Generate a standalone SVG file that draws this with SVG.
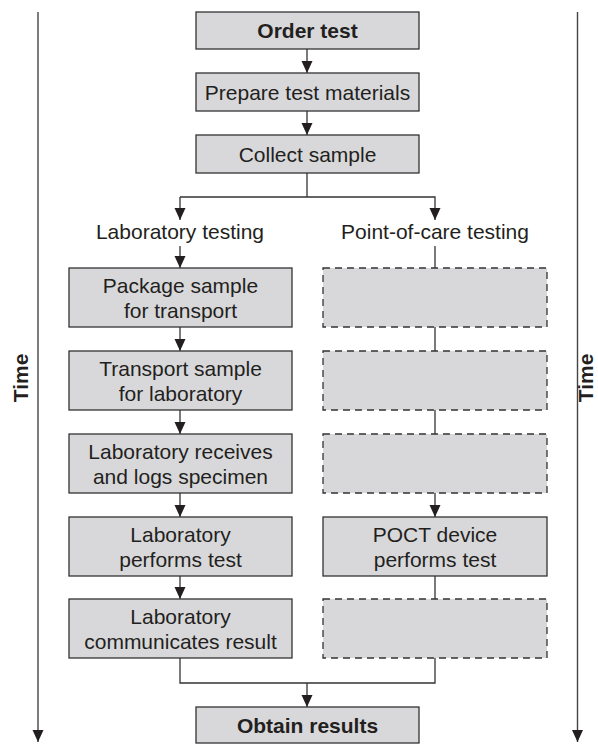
<svg xmlns="http://www.w3.org/2000/svg" width="598" height="744" viewBox="0 0 598 744">
<style>
  text { font-family: "Liberation Sans", Arial, Helvetica, sans-serif; font-size: 21px; fill: #231f20; text-anchor: middle; }
  .b { font-weight: bold; }
  .box { fill: #d8d8da; stroke: #333; stroke-width: 1.3; }
  .dash { fill: #d8d8da; stroke: #333; stroke-width: 1.3; stroke-dasharray: 7 5; }
  .ln { fill: none; stroke: #333; stroke-width: 1.3; }
  .tl { fill: none; stroke: #444; stroke-width: 1.4; }
</style>
<defs>
  <marker id="ah" markerUnits="userSpaceOnUse" markerWidth="12" markerHeight="12" viewBox="0 0 12 12" refX="12" refY="6" orient="auto">
    <path d="M0,0.5 L12,6 L0,11.5 Z" fill="#231f20"/>
  </marker>
</defs>
<rect width="598" height="744" fill="#fff"/>

<g id="timeline-left">
  <line class="tl" x1="38" y1="12" x2="38" y2="742" marker-end="url(#ah)"/>
  <text class="b" transform="translate(28,378) rotate(-90)">Time</text>
</g>
<g id="timeline-right">
  <line class="tl" x1="577.5" y1="12" x2="577.5" y2="742" marker-end="url(#ah)"/>
  <text class="b" transform="translate(593,378) rotate(-90)">Time</text>
</g>

<g id="connectors">
  <line class="ln" x1="307" y1="49" x2="307" y2="73" marker-end="url(#ah)"/>
  <line class="ln" x1="307" y1="111" x2="307" y2="135" marker-end="url(#ah)"/>
  <polyline class="ln" points="307,173 307,197"/>
  <polyline class="ln" points="180,197 435,197 435,220" marker-end="url(#ah)"/>
  <line class="ln" x1="180" y1="197" x2="180" y2="220" marker-end="url(#ah)"/>
  <line class="ln" x1="180" y1="246" x2="180" y2="268" marker-end="url(#ah)"/>
  <line class="ln" x1="180" y1="327" x2="180" y2="351" marker-end="url(#ah)"/>
  <line class="ln" x1="180" y1="410" x2="180" y2="434" marker-end="url(#ah)"/>
  <line class="ln" x1="180" y1="493" x2="180" y2="517" marker-end="url(#ah)"/>
  <line class="ln" x1="180" y1="576" x2="180" y2="599" marker-end="url(#ah)"/>
  <line class="ln" x1="435" y1="246" x2="435" y2="268"/>
  <line class="ln" x1="435" y1="327" x2="435" y2="351"/>
  <line class="ln" x1="435" y1="410" x2="435" y2="434"/>
  <line class="ln" x1="435" y1="493" x2="435" y2="517" marker-end="url(#ah)"/>
  <line class="ln" x1="435" y1="576" x2="435" y2="599"/>
  <polyline class="ln" points="180,658 180,683 435,683 435,658"/>
  <line class="ln" x1="307" y1="683" x2="307" y2="707" marker-end="url(#ah)"/>
</g>

<g id="order-test">
  <rect class="box" x="196" y="12" width="223" height="37"/>
  <text class="b" x="307.5" y="38">Order test</text>
</g>
<g id="prepare-test-materials">
  <rect class="box" x="196" y="73" width="223" height="38"/>
  <text x="307.5" y="99.5">Prepare test materials</text>
</g>
<g id="collect-sample">
  <rect class="box" x="196" y="135" width="223" height="38"/>
  <text x="307.5" y="161.5">Collect sample</text>
</g>

<g id="label-lab">
  <text x="180" y="239">Laboratory testing</text>
</g>
<g id="label-poc">
  <text x="435" y="239">Point-of-care testing</text>
</g>

<g id="package-sample">
  <rect class="box" x="69" y="268" width="223" height="59"/>
  <text x="180.5" y="292.5">Package sample</text>
  <text x="180.5" y="317.5">for transport</text>
</g>
<g id="transport-sample">
  <rect class="box" x="69" y="351" width="223" height="59"/>
  <text x="180.5" y="375.5">Transport sample</text>
  <text x="180.5" y="400.5">for laboratory</text>
</g>
<g id="lab-receives">
  <rect class="box" x="69" y="434" width="223" height="59"/>
  <text x="180.5" y="458.5">Laboratory receives</text>
  <text x="180.5" y="483.5">and logs specimen</text>
</g>
<g id="lab-performs">
  <rect class="box" x="69" y="517" width="223" height="59"/>
  <text x="180.5" y="541.5">Laboratory</text>
  <text x="180.5" y="566.5">performs test</text>
</g>
<g id="lab-communicates">
  <rect class="box" x="69" y="599" width="223" height="59"/>
  <text x="180.5" y="623.5">Laboratory</text>
  <text x="180.5" y="648.5">communicates result</text>
</g>

<g id="poc-1"><rect class="dash" x="323" y="268" width="224" height="59"/></g>
<g id="poc-2"><rect class="dash" x="323" y="351" width="224" height="59"/></g>
<g id="poc-3"><rect class="dash" x="323" y="434" width="224" height="59"/></g>
<g id="poct-performs">
  <rect class="box" x="323" y="517" width="224" height="59"/>
  <text x="435" y="541.5">POCT device</text>
  <text x="435" y="566.5">performs test</text>
</g>
<g id="poc-5"><rect class="dash" x="323" y="599" width="224" height="59"/></g>

<g id="obtain-results">
  <rect class="box" x="196" y="707" width="223" height="36"/>
  <text class="b" x="307.5" y="732.5">Obtain results</text>
</g>
</svg>
